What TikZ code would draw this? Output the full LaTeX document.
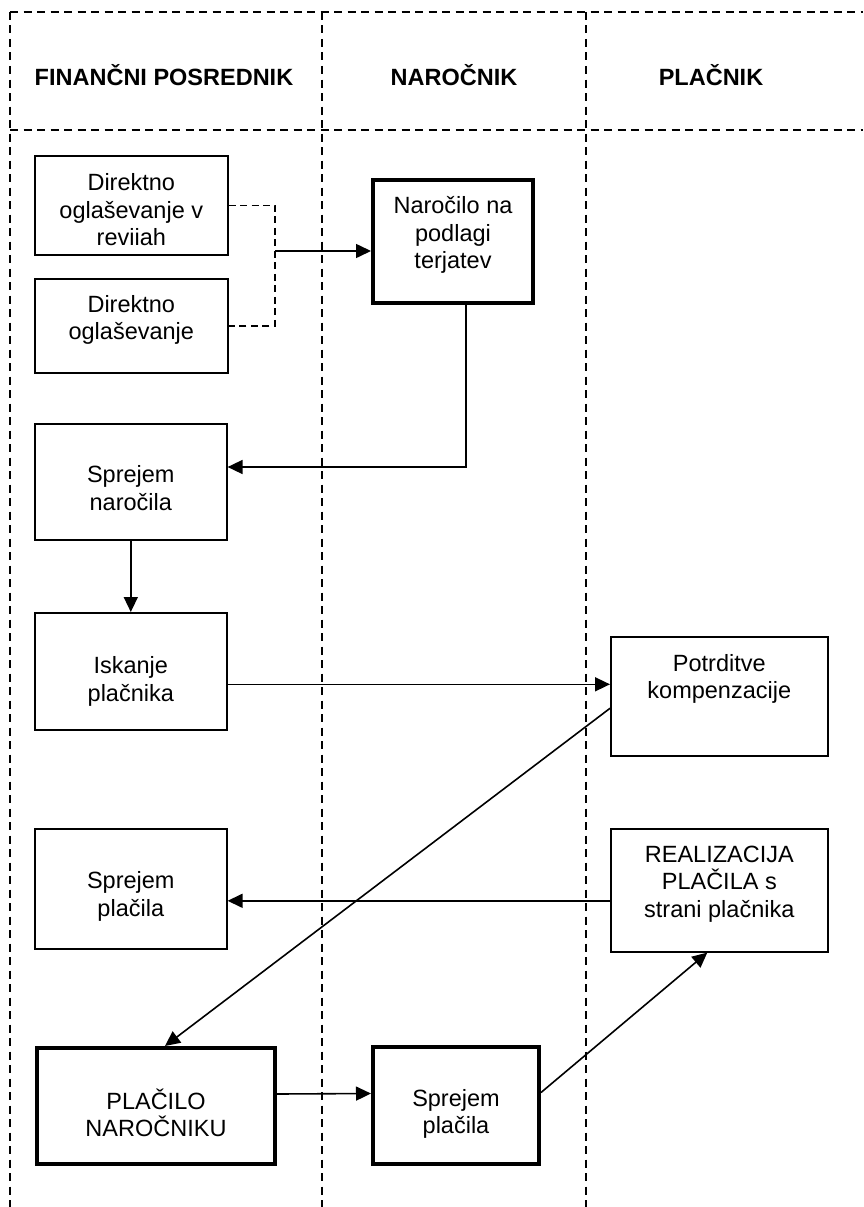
\documentclass[tikz,border=0pt]{standalone}
\usepackage{fontspec}
\setmainfont{Liberation Sans}
\usetikzlibrary{arrows.meta}

% text set from the top of a box: height, first baseline, lines
\newcommand{\boxtext}[3]{\parbox[c][#1][t]{160pt}{\centering\baselineskip=27.5pt\rule{0pt}{#2}#3}}

\begin{document}
\begin{tikzpicture}[
        x=1pt, y=-1pt,
        lane/.style={black, line width=1.6pt, dash pattern=on 8pt off 5.5pt},
        box/.style={rectangle, draw=black, line width=1.6pt, anchor=north west, inner sep=0pt, font=\fontsize{23.5}{27.5}\selectfont},
        thickbox/.style={box, line width=4pt},
        head/.style={font=\fontsize{23.5}{27.5}\selectfont\bfseries},
        edge/.style={black, line width=1.6pt},
        arrow/.style={edge, -{Triangle[length=15pt, width=14pt]}},
        link/.style={edge, dash pattern=on 7pt off 4.5pt},
    ]

        \useasboundingbox (0, 0) rectangle (863, 1207);

        \foreach \x in {10, 322, 586} {
            \draw[lane] (\x, 12) -- (\x, 1207);
        }
        \draw[lane] (10, 12) -- (863, 12);
        \draw[lane] (10, 130) -- (863, 130);

        \node[head] (hdFin) at (164, 75) {FINANČNI POSREDNIK};
        \node[head] (hdNar) at (454, 75) {NAROČNIK};
        \node[head] (hdPla) at (711, 75) {PLAČNIK};

        \node[box, minimum width=193pt, minimum height=99pt] (dirRev) at (34, 155)
            {\boxtext{99pt}{35pt}{Direktno\\oglaševanje v\\reviiah}};
        \node[box, minimum width=193pt, minimum height=94pt] (dirOgl) at (34, 278)
            {\boxtext{94pt}{33.5pt}{Direktno\\oglaševanje}};
        \node[thickbox, minimum width=159pt, minimum height=123pt] (narocilo) at (371, 178)
            {\boxtext{123pt}{33.5pt}{Naročilo na\\podlagi\\terjatev}};
        \node[box, minimum width=192pt, minimum height=116pt] (sprNar) at (34, 423)
            {\boxtext{116pt}{59pt}{Sprejem\\naročila}};
        \node[box, minimum width=192pt, minimum height=117pt] (iskanje) at (34, 612)
            {\boxtext{117pt}{61pt}{Iskanje\\plačnika}};
        \node[box, minimum width=217pt, minimum height=119pt] (potrditve) at (610, 636)
            {\boxtext{119pt}{34.5pt}{Potrditve\\kompenzacije}};
        \node[box, minimum width=192pt, minimum height=120pt] (sprPlacFin) at (34, 828)
            {\boxtext{120pt}{60pt}{Sprejem\\plačila}};
        \node[box, minimum width=217pt, minimum height=123pt] (realizacija) at (610, 828)
            {\boxtext{123pt}{33.5pt}{REALIZACIJA\\PLAČILA s\\strani plačnika}};
        \node[thickbox, minimum width=238pt, minimum height=116pt] (placilo) at (35, 1046)
            {\boxtext{116pt}{61pt}{PLAČILO\\NAROČNIKU}};
        \node[thickbox, minimum width=166pt, minimum height=117pt] (sprPlacNar) at (371, 1045)
            {\boxtext{117pt}{59pt}{Sprejem\\plačila}};

        \coordinate (join) at (275, 251);
        \coordinate (bend) at (466, 467);

        \draw[link] (dirRev.east) -| (join) |- (dirOgl.east);
        \draw[arrow] (join) -- (join -| narocilo.west);
        \draw[arrow] (bend |- narocilo.south) -- (bend) -- (bend -| sprNar.east);
        \draw[arrow] (sprNar) -- (iskanje);
        \draw[arrow] ([yshift=-13pt]iskanje.east) -- ([yshift=12pt]potrditve.west);
        \draw[arrow] ([yshift=-12pt]potrditve.west) -- ([xshift=9pt]placilo.north);
        \draw[arrow] ([yshift=-10.5pt]realizacija.west) -- ([yshift=-12pt]sprPlacFin.east);
        \draw[arrow] ([yshift=12pt]placilo.east) -- ([yshift=12pt]sprPlacNar.west);
        \draw[arrow] ([yshift=13pt]sprPlacNar.east) -- ([xshift=-12pt]realizacija.south);
    \end{tikzpicture}
\end{document}
